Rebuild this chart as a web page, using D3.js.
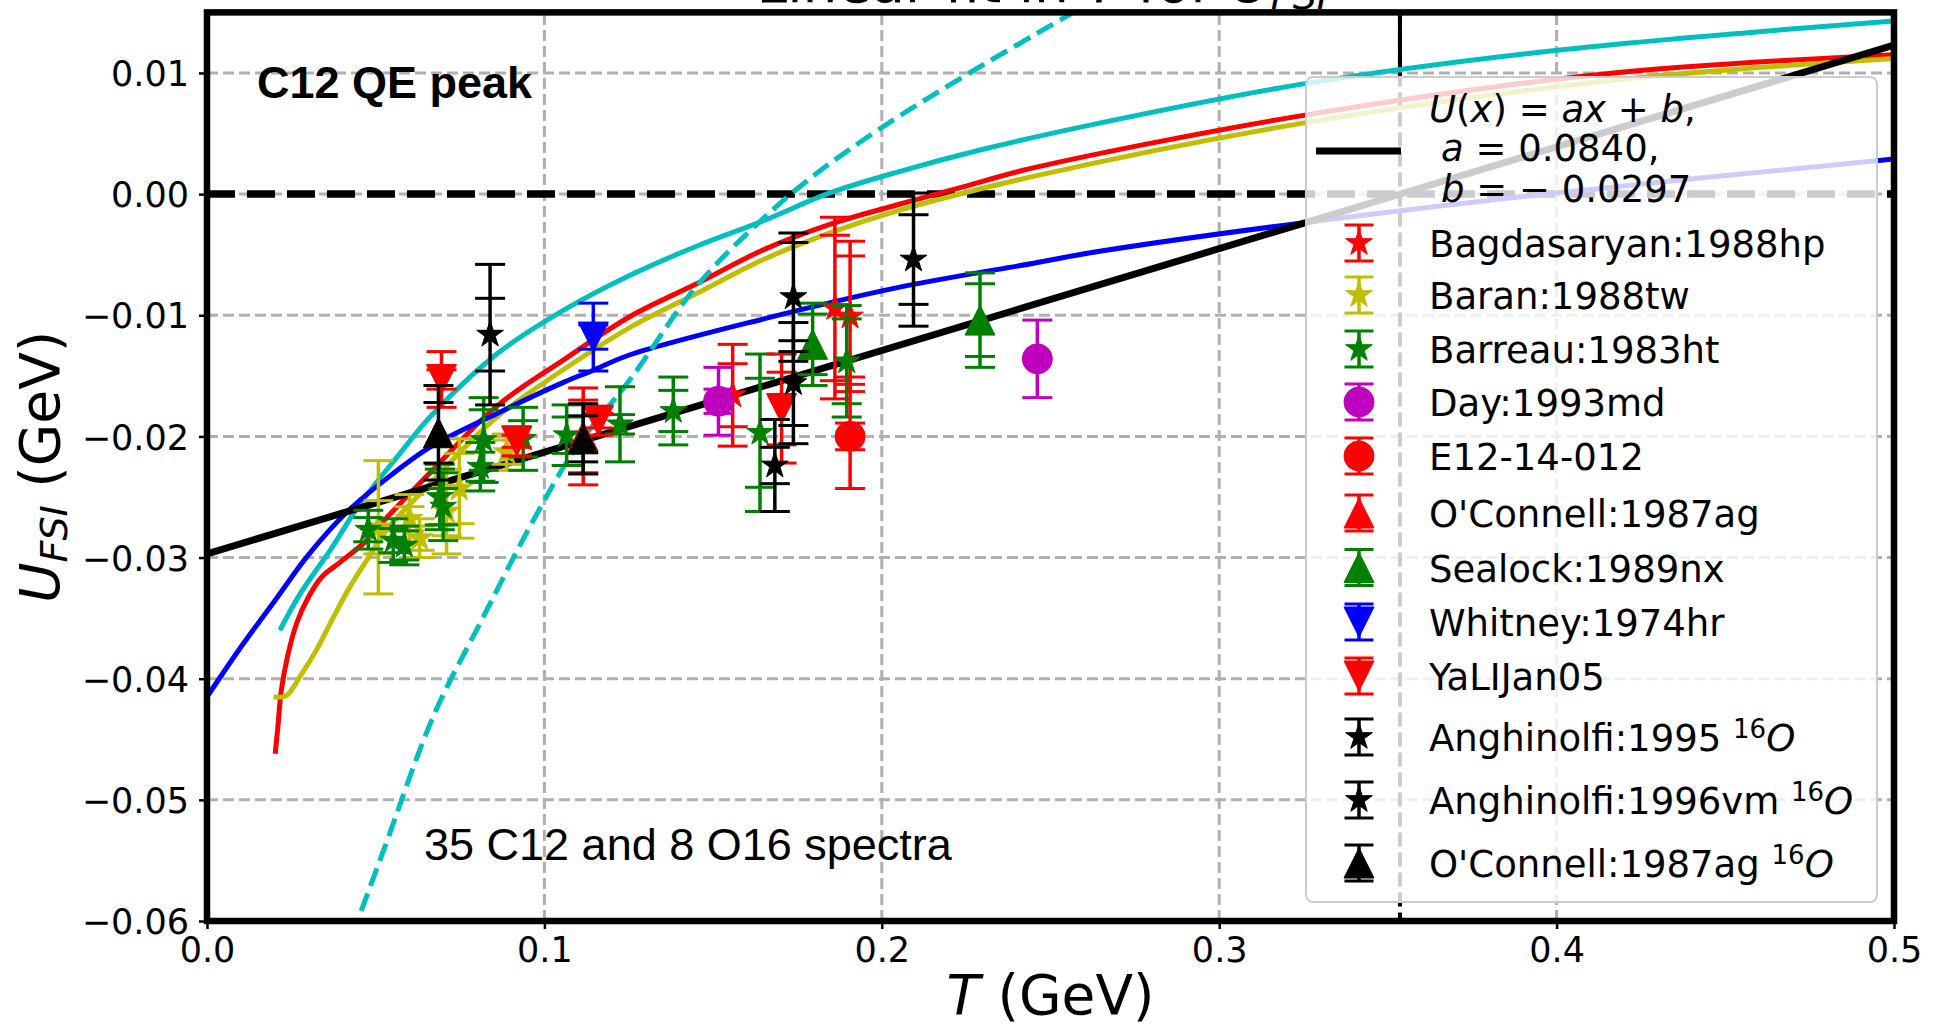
<!DOCTYPE html>
<html>
<head>
<meta charset="utf-8">
<title>U_FSI vs T</title>
<script src="https://cdn.jsdelivr.net/npm/d3@7"></script>
<style>
  body { margin: 0; background: #fff; }
  svg text { font-family: "DejaVu Sans", sans-serif; fill: #000; }
</style>
</head>
<body>
<svg id="chart" width="1944" height="1029"></svg>
<script>
// ---- data ----
const xTicks = [0, 0.1, 0.2, 0.3, 0.4, 0.5];
const yTicks = [0.01, 0, -0.01, -0.02, -0.03, -0.04, -0.05, -0.06];
const fitA = 0.0840, fitB = -0.0297;

// model curves [T, U]
const cyanSolid = [[0.0216,-0.0360],[0.0276,-0.0330],[0.037,-0.0292],[0.045,-0.0257],[0.0572,-0.0214],[0.0661,-0.0184],[0.0859,-0.0132],[0.1056,-0.0096],[0.1254,-0.0067],[0.1451,-0.0043],[0.1649,-0.0022],[0.1846,0.0001],[0.2044,0.0018],[0.23,0.0037],[0.2635,0.0058],[0.325,0.0091],[0.401,0.0119],[0.5,0.0143]];
const cyanDashed = [[0.0430,-0.0612],[0.0523,-0.0542],[0.0671,-0.0431],[0.0819,-0.0349],[0.0960,-0.0273],[0.1090,-0.0211],[0.1254,-0.0153],[0.1451,-0.0076],[0.1649,-0.0020],[0.1797,0.0015],[0.2000,0.0055],[0.2266,0.0101],[0.2580,0.0152]];
const redCurve = [[0.0202,-0.0462],[0.0210,-0.0440],[0.0220,-0.0410],[0.0240,-0.0380],[0.0266,-0.0354],[0.0300,-0.0333],[0.0340,-0.0316],[0.0394,-0.0304],[0.0473,-0.0286],[0.0523,-0.0270],[0.0661,-0.0230],[0.0859,-0.0175],[0.1056,-0.0137],[0.1254,-0.0101],[0.1451,-0.0074],[0.1649,-0.0046],[0.1846,-0.0025],[0.2044,-0.0009],[0.2241,0.0006],[0.2439,0.0021],[0.325,0.0065],[0.417,0.0100],[0.5,0.0115]];
const yellowCurve = [[0.0197,-0.0415],[0.0235,-0.0414],[0.0276,-0.0398],[0.0325,-0.0376],[0.0375,-0.0349],[0.0424,-0.0324],[0.0474,-0.0302],[0.0533,-0.0277],[0.0661,-0.0239],[0.0859,-0.0184],[0.1056,-0.0145],[0.1254,-0.0110],[0.1451,-0.0082],[0.1649,-0.0054],[0.1846,-0.0032],[0.2044,-0.0014],[0.2439,0.0014],[0.3257,0.0059],[0.417,0.0094],[0.5,0.0112]];
const blueCurve = [[0,-0.0415],[0.010,-0.0374],[0.020,-0.0336],[0.030,-0.0298],[0.042,-0.0261],[0.055,-0.0231],[0.066,-0.0209],[0.086,-0.0181],[0.106,-0.0155],[0.114,-0.0146],[0.125,-0.0133],[0.165,-0.0103],[0.205,-0.0077],[0.245,-0.0057],[0.265,-0.0047],[0.324,-0.0024],[0.4,0.0001],[0.5,0.0029]];

// measurements [T, U, inner error, outer error]
const bagdasaryan = [[0.1558,-0.0166,0.0026,0.0042],[0.1861,-0.0094,0.0060,0.0075],[0.1906,-0.0101,0.0050,0.0062]];
const baran = [[0.0508,-0.0275,0.0022,0.0055],[0.0600,-0.0268,0.0010,0.0020],[0.0630,-0.0284,0.0010,0.0016],[0.0710,-0.0262,0.0020,0.0035],[0.0748,-0.0243,0.0029,0.0041],[0.0888,-0.0213,0.0010,0.0015]];
const barreau = [[0.0478,-0.0277,0.0010,0.0016],[0.0552,-0.0286,0.0010,0.0018],[0.0585,-0.0290,0.0012,0.0016],[0.0690,-0.0250,0.0023,0.0027],[0.0700,-0.0258,0.0015,0.0028],[0.0810,-0.0225,0.0012,0.0020],[0.0820,-0.0203,0.0025,0.0035],[0.0937,-0.0202,0.0015,0.0026],[0.1066,-0.0199,0.0015,0.0025],[0.1224,-0.0190,0.0008,0.0031],[0.1382,-0.0179,0.0017,0.0028],[0.1639,-0.0197,0.0045,0.0065],[0.1896,-0.0138,0.0035,0.0046]];
const day = [[0.1516,-0.0171,0.0010,0.0028],[0.2461,-0.0136,0,0.0032]];
const e12 = [[0.1906,-0.0200,0.0011,0.0043]];
const oconnell = [[0.1115,-0.0200,0.0030,0.0040]];
const sealock = [[0.1795,-0.0124,0.0025,0.0034],[0.2291,-0.0104,0.0030,0.0039]];
const whitney = [[0.1145,-0.0118,0.0010,0.0028]];
const yali = [[0.0695,-0.0153,0.0008,0.0023],[0.0918,-0.0204,0.0005,0.0012],[0.1160,-0.0187,0.0006,0.0012],[0.1703,-0.0177,0.0030,0.0045]];
const anghinolfi95 = [[0.0839,-0.0116,0.0030,0.0058],[0.1738,-0.0085,0.0045,0.0053]];
const anghinolfi96 = [[0.1683,-0.0224,0.0015,0.0038],[0.1738,-0.0156,0.0035,0.0050],[0.2094,-0.0054,0.0037,0.0055]];
const oconnell16 = [[0.0686,-0.0197,0.0025,0.0039],[0.1115,-0.0202,0.0019,0.0029]];

const C = { r: "#ff0000", y: "#bfbf00", g: "#008000", m: "#bf00bf", b: "#0000ff", k: "#000000", c: "#00bfbf" };

const series = [
  { name: "Bagdasaryan:1988hp", data: bagdasaryan, color: C.r, marker: "star" },
  { name: "Baran:1988tw", data: baran, color: C.y, marker: "star" },
  { name: "Barreau:1983ht", data: barreau, color: C.g, marker: "star" },
  { name: "Day:1993md", data: day, color: C.m, marker: "circle" },
  { name: "E12-14-012", data: e12, color: C.r, marker: "circle" },
  { name: "O'Connell:1987ag", data: oconnell, color: C.r, marker: "up" },
  { name: "Sealock:1989nx", data: sealock, color: C.g, marker: "up" },
  { name: "Whitney:1974hr", data: whitney, color: C.b, marker: "down" },
  { name: "YaLIJan05", data: yali, color: C.r, marker: "down" },
  { name: "Anghinolfi:1995", sup: true, data: anghinolfi95, color: C.k, marker: "star" },
  { name: "Anghinolfi:1996vm", sup: true, data: anghinolfi96, color: C.k, marker: "star" },
  { name: "O'Connell:1987ag", sup: true, data: oconnell16, color: C.k, marker: "up" }
];

// ---- setup ----
const svg = d3.select("#chart");
const L = 207, R = 1894, T = 12.4, B = 921;
const x = d3.scaleLinear().domain([0, 0.5]).range([L, R]);
const y = d3.scaleLinear().domain([-0.06, 0.015]).range([B, T]);

svg.append("rect").attr("width", 1944).attr("height", 1029).attr("fill", "#fff");
svg.append("defs").append("clipPath").attr("id", "plot")
  .append("rect").attr("x", L).attr("y", T).attr("width", R - L).attr("height", B - T);

// title (cut off by the top edge, only a sliver shows)
const title = svg.append("text").attr("x", 1328).attr("y", 2).attr("text-anchor", "end")
  .style("font-size", "55px");
title.append("tspan").text("Linear fit in ");
title.append("tspan").style("font-style", "italic").text("T");
title.append("tspan").text(" for ");
title.append("tspan").style("font-style", "italic").text("U");
title.append("tspan").style("font-style", "italic").style("font-size", "38px").attr("dy", 7).text("FSI");

// grid
const grid = svg.append("g").attr("stroke", "#b0b0b0").attr("stroke-width", 3).attr("stroke-dasharray", "11,5");
grid.selectAll(".gx").data(xTicks.slice(1, -1)).enter().append("line")
  .attr("x1", d => x(d)).attr("x2", d => x(d)).attr("y1", B).attr("y2", T);
grid.selectAll(".gy").data(yTicks.slice(0, -1)).enter().append("line")
  .attr("y1", d => y(d)).attr("y2", d => y(d)).attr("x1", L).attr("x2", R);

const plot = svg.append("g").attr("clip-path", "url(#plot)");

// reference lines
plot.append("line").attr("x1", L).attr("x2", R).attr("y1", y(0)).attr("y2", y(0))
  .attr("stroke", "#000").attr("stroke-width", 7.5).attr("stroke-dasharray", "28,12");
const xZero = -fitB / fitA;
plot.append("line").attr("x1", x(xZero)).attr("x2", x(xZero)).attr("y1", T).attr("y2", B)
  .attr("stroke", "#000").attr("stroke-width", 4).attr("stroke-dasharray", "14,6");
plot.append("line").attr("x1", x(xZero)).attr("x2", x(xZero)).attr("y1", T).attr("y2", y(0.0104))
  .attr("stroke", "#000").attr("stroke-width", 4);

// curves
const line = d3.line().x(d => x(d[0])).y(d => y(d[1])).curve(d3.curveCatmullRom);
[[cyanSolid, C.c, null], [redCurve, C.r, null], [yellowCurve, C.y, null], [blueCurve, C.b, null], [cyanDashed, C.c, "18.5,8"]]
  .forEach(([d, col, dash]) => {
    plot.append("path").datum(d).attr("d", line).attr("fill", "none")
      .attr("stroke", col).attr("stroke-width", 5).attr("stroke-dasharray", dash);
  });
plot.append("path").datum([[0, fitB], [0.5, fitA * 0.5 + fitB]]).attr("d", d3.line().x(d => x(d[0])).y(d => y(d[1])))
  .attr("stroke", "#000").attr("stroke-width", 7).attr("fill", "none");

// markers
function markerPath(type, s) {
  const r = s / 2;
  if (type === "star") {
    const pts = [];
    for (let i = 0; i < 10; i++) {
      const a = -Math.PI / 2 + i * Math.PI / 5, rr = i % 2 ? r * 0.381966 : r;
      pts.push([rr * Math.cos(a), rr * Math.sin(a)]);
    }
    return "M" + pts.map(p => p.join(",")).join("L") + "Z";
  }
  if (type === "up") return `M0,${-r}L${r},${r}L${-r},${r}Z`;
  if (type === "down") return `M0,${r}L${r},${-r}L${-r},${-r}Z`;
  return d3.arc()({ innerRadius: 0, outerRadius: r, startAngle: 0, endAngle: 2 * Math.PI });
}
const msize = { star: 28, circle: 30, up: 30, down: 30 };
const capW = 15;

series.forEach(s => {
  const g = plot.append("g").attr("stroke", s.color).attr("fill", s.color);
  s.data.forEach(p => {
    const px = x(p[0]);
    g.append("line").attr("x1", px).attr("x2", px).attr("y1", y(p[1] - p[3])).attr("y2", y(p[1] + p[3]))
      .attr("stroke-width", 3.5);
    [p[1] - p[3], p[1] + p[3]].concat(p[2] ? [p[1] - p[2], p[1] + p[2]] : []).forEach(v => {
      g.append("line").attr("x1", px - capW).attr("x2", px + capW).attr("y1", y(v)).attr("y2", y(v))
        .attr("stroke-width", 3);
    });
    g.append("path").attr("d", markerPath(s.marker, msize[s.marker]))
      .attr("transform", `translate(${px},${y(p[1])})`).attr("stroke-width", 1);
  });
});

// spines
svg.append("rect").attr("x", L).attr("y", T).attr("width", R - L).attr("height", B - T)
  .attr("fill", "none").attr("stroke", "#000").attr("stroke-width", 6.5);

// axes
const fmtY = d3.format(".2f"), fmtX = d3.format(".1f");
const ax = svg.append("g").attr("transform", `translate(0,${B})`)
  .call(d3.axisBottom(x).tickValues(xTicks).tickFormat(fmtX).tickSize(8).tickPadding(8));
const ay = svg.append("g").attr("transform", `translate(${L},0)`)
  .call(d3.axisLeft(y).tickValues(yTicks).tickFormat(fmtY).tickSize(8).tickPadding(10));
[ax, ay].forEach(a => {
  a.select(".domain").remove();
  a.selectAll(".tick line").attr("stroke", "#000").attr("stroke-width", 2.5);
  a.selectAll(".tick text").style("font-size", "35px").style("font-family", "DejaVu Sans");
});
ay.selectAll(".tick text").attr("dy", "0.36em");

// axis labels
const xl = svg.append("text").attr("x", (L + R) / 2).attr("y", 1014).attr("text-anchor", "middle").style("font-size", "55px");
xl.append("tspan").style("font-style", "italic").text("T");
xl.append("tspan").text(" (GeV)");
const yl = svg.append("text").attr("transform", `translate(59,${(T + B) / 2}) rotate(-90)`)
  .attr("text-anchor", "middle").style("font-size", "55px");
yl.append("tspan").style("font-style", "italic").text("U");
yl.append("tspan").style("font-style", "italic").style("font-size", "38px").attr("dy", 8).text("FSI");
yl.append("tspan").attr("dy", -8).text(" (GeV)");

// annotations
svg.append("text").attr("x", 257).attr("y", 98).style("font-family", "Liberation Sans").style("font-weight", "bold")
  .style("font-size", "45px").text("C12 QE peak");
svg.append("text").attr("x", 424).attr("y", 860).style("font-family", "Liberation Sans")
  .style("font-size", "45px").text("35 C12 and 8 O16 spectra");

// legend
const lg = svg.append("g");
lg.append("rect").attr("x", 1306).attr("y", 77).attr("width", 571).attr("height", 825).attr("rx", 7)
  .attr("fill", "#fff").attr("fill-opacity", 0.8).attr("stroke", "#cccccc").attr("stroke-width", 2);
lg.append("line").attr("x1", 1316).attr("x2", 1401).attr("y1", 151).attr("y2", 151)
  .attr("stroke", "#000").attr("stroke-width", 7);
const fs = "37px", tx = 1429;
const l1 = lg.append("text").attr("x", tx).attr("y", 122).style("font-size", fs);
[["U", 1], ["(", 0], ["x", 1], [") = ", 0], ["ax", 1], [" + ", 0], ["b", 1], [",", 0]].forEach(([t, it]) =>
  l1.append("tspan").style("font-style", it ? "italic" : "normal").text(t));
const l2 = lg.append("text").attr("x", tx + 12).attr("y", 161).style("font-size", fs);
l2.append("tspan").style("font-style", "italic").text("a");
l2.append("tspan").text(" = 0.0840,");
const l3 = lg.append("text").attr("x", tx + 12).attr("y", 202).style("font-size", fs);
l3.append("tspan").style("font-style", "italic").text("b");
l3.append("tspan").text(" = \u2212 0.0297");

const baselines = [257, 309, 363, 416, 470, 527, 581.5, 636, 690, 751, 814, 877];
series.forEach((s, i) => {
  const by = baselines[i], my = by - 14, mx = 1359;
  const g = lg.append("g").attr("stroke", s.color).attr("fill", s.color);
  g.append("line").attr("x1", mx).attr("x2", mx).attr("y1", my - 18).attr("y2", my + 18).attr("stroke-width", 3.5);
  [my - 18, my + 18].forEach(v => g.append("line").attr("x1", mx - 14.5).attr("x2", mx + 14.5)
    .attr("y1", v).attr("y2", v).attr("stroke-width", 3));
  g.append("path").attr("d", markerPath(s.marker, msize[s.marker]))
    .attr("transform", `translate(${mx},${my})`).attr("stroke-width", 1);
  const t = lg.append("text").attr("x", tx).attr("y", by).style("font-size", fs);
  t.append("tspan").text(s.name);
  if (s.sup) {
    t.append("tspan").text(" ");
    t.append("tspan").style("font-size", "26px").attr("dy", -13).text("16");
    t.append("tspan").style("font-style", "italic").attr("dy", 13).text("O");
  }
});
</script>
</body>
</html>
